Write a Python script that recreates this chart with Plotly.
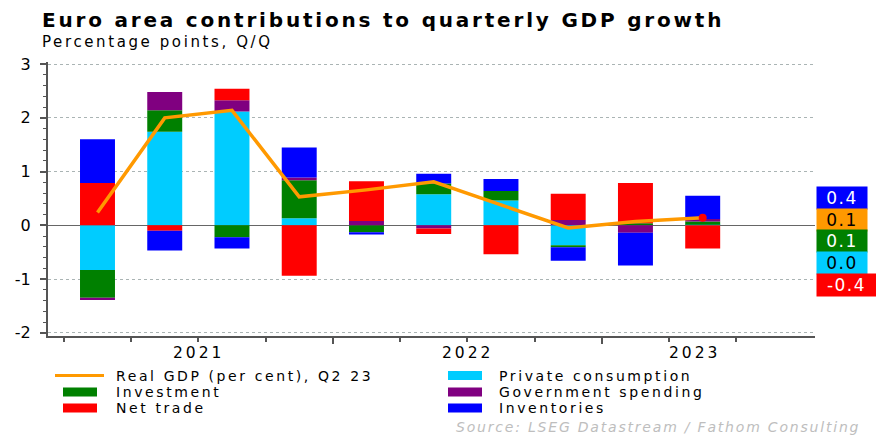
import plotly.graph_objects as go

# Quarterly contributions to euro area GDP growth (percentage points, Q/Q)
quarters = ["Q1 21", "Q2 21", "Q3 21", "Q4 21", "Q1 22",
            "Q2 22", "Q3 22", "Q4 22", "Q1 23", "Q2 23"]
private_consumption = [-0.83, 1.74, 2.12, 0.13, 0.00, 0.58, 0.46, -0.37, 0.00, 0.01]
investment = [-0.52, 0.40, -0.22, 0.71, -0.13, 0.20, 0.18, -0.04, 0.04, 0.06]
government_spending = [-0.04, 0.34, 0.21, 0.05, 0.08, -0.06, 0.00, 0.10, -0.14, 0.05]
net_trade = [0.79, -0.10, 0.21, -0.94, 0.74, -0.10, -0.54, 0.49, 0.75, -0.43]
inventories = [0.81, -0.37, -0.21, 0.56, -0.04, 0.18, 0.22, -0.25, -0.61, 0.43]
real_gdp = [0.24, 2.00, 2.14, 0.53, 0.66, 0.81, 0.38, -0.05, 0.07, 0.14]

year_labels = ["2021", "2022", "2023"]
year_label_pos = [1.5, 5.5, 8.88]
y_ticks = [-2, -1, 0, 1, 2, 3]

GDP_NAME = "Real GDP (per cent), Q2 23"
C_PC, C_INV, C_GOV, C_NT, C_STK, C_GDP = ("#00CCFF", "#008000", "#800080",
                                           "#FF0000", "#0000FF", "#FF9900")

x = list(range(len(quarters)))

# stacking order of the bars (positives and negatives stack separately)
bar_series = [
    ("Private consumption", private_consumption, C_PC),
    ("Investment", investment, C_INV),
    ("Government spending", government_spending, C_GOV),
    ("Net trade", net_trade, C_NT),
    ("Inventories", inventories, C_STK),
]

FONT = "DejaVu Sans"
W, H = 876, 435
L, R, T, B = 48, 61, 62, 99
PW, PH = W - L - R, H - T - B


def px_x(px):
    return (px - L) / PW


def px_y(py):
    return (H - B - py) / PH


def spaced(text, px):
    """Wrap text in a span with extra letter spacing (wide lettering)."""
    return f'<span style="letter-spacing:{px}px">{text}</span>'


fig = go.Figure()
for name, vals, col in bar_series:
    fig.add_trace(go.Bar(
        x=x, y=vals, name=name, marker=dict(color=col, line=dict(width=0)),
        width=0.52, customdata=quarters,
        hovertemplate="%{customdata}: %{y:.2f}<extra>" + name + "</extra>",
    ))

fig.add_trace(go.Scatter(
    x=x, y=real_gdp, name=GDP_NAME, mode="lines",
    line=dict(color=C_GDP, width=3.5), customdata=quarters,
    hovertemplate="%{customdata}: %{y:.2f}<extra>Real GDP</extra>",
))
# highlight latest GDP reading
fig.add_trace(go.Scatter(
    x=[x[-1]], y=[real_gdp[-1]], mode="markers", showlegend=False,
    marker=dict(color="#FF0000", size=8), hoverinfo="skip",
))

annotations = []
shapes = []

# title and subtitle
annotations.append(dict(
    text=spaced("<b>Euro area contributions to quarterly GDP growth</b>", 2.8),
    xref="paper", yref="paper", x=px_x(40), y=px_y(20),
    xanchor="left", yanchor="middle", showarrow=False,
    font=dict(family=FONT, size=20, color="#000000"),
))
annotations.append(dict(
    text=spaced("Percentage points, Q/Q", 2.6),
    xref="paper", yref="paper", x=px_x(40), y=px_y(42),
    xanchor="left", yanchor="middle", showarrow=False,
    font=dict(family=FONT, size=15, color="#000000"),
))

# year labels under the axis
for lbl, pos in zip(year_labels, year_label_pos):
    annotations.append(dict(
        text=spaced(lbl, 3), xref="x", yref="paper", x=pos, y=px_y(353),
        xanchor="center", yanchor="middle", showarrow=False,
        font=dict(family=FONT, size=15.5, color="#000000"),
    ))

# latest-value tags on the right
tags = [
    (inventories[-1], C_STK, "#FFFFFF", 46),
    (real_gdp[-1], C_GDP, "#000000", 46),
    (investment[-1], C_INV, "#FFFFFF", 46),
    (private_consumption[-1], C_PC, "#000000", 46),
    (net_trade[-1], C_NT, "#FFFFFF", 55),
]
for i, (val, bg, fg, wd) in enumerate(tags):
    annotations.append(dict(
        text=spaced(f"{val:.1f}", 1.5), xref="paper", yref="paper",
        x=px_x(816), y=px_y(198 + i * 21.7),
        xanchor="left", yanchor="middle", showarrow=False,
        width=wd, height=18, borderpad=2, bgcolor=bg, align="center",
        font=dict(family=FONT, size=17, color=fg),
    ))

# legend drawn in two columns
legend_items = [
    (GDP_NAME, C_GDP, "line", 55, 375.5),
    ("Private consumption", C_PC, "rect", 448, 375.5),
    ("Investment", C_INV, "rect", 63, 392),
    ("Government spending", C_GOV, "rect", 448, 392),
    ("Net trade", C_NT, "rect", 63, 408),
    ("Inventories", C_STK, "rect", 448, 408),
]
for name, col, kind, x0, yc in legend_items:
    if kind == "line":
        shapes.append(dict(type="line", xref="paper", yref="paper",
                           x0=px_x(x0), x1=px_x(104), y0=px_y(yc), y1=px_y(yc),
                           line=dict(color=col, width=3)))
        tx = 114
    else:
        shapes.append(dict(type="rect", xref="paper", yref="paper",
                           x0=px_x(x0), x1=px_x(x0 + 34),
                           y0=px_y(yc - 4.5), y1=px_y(yc + 4.5),
                           fillcolor=col, line=dict(width=0)))
        tx = 114 if x0 < 200 else 497
    annotations.append(dict(
        text=spaced(name, 2.6), xref="paper", yref="paper", x=px_x(tx), y=px_y(yc),
        xanchor="left", yanchor="middle", showarrow=False,
        font=dict(family=FONT, size=14, color="#000000"),
    ))

annotations.append(dict(
    text=spaced("<i>Source: LSEG Datastream / Fathom Consulting</i>", 1.8),
    xref="paper", yref="paper", x=px_x(862), y=px_y(427),
    xanchor="right", yanchor="middle", showarrow=False,
    font=dict(family=FONT, size=14, color="#BEBEBE"),
))

fig.update_layout(
    width=W, height=H,
    margin=dict(l=L, r=R, t=T, b=B, pad=0),
    paper_bgcolor="#FFFFFF", plot_bgcolor="#FFFFFF",
    barmode="relative", bargap=0.48,
    showlegend=False,
    font=dict(family=FONT, size=15, color="#000000"),
    annotations=annotations, shapes=shapes,
)

fig.update_xaxes(
    range=[-0.736, 10.67], showgrid=False, zeroline=False,
    showline=True, linecolor="#555555", linewidth=2,
    tickmode="array", tickvals=[3.5, 7.5], ticktext=["", ""],
    ticks="outside", ticklen=6, tickcolor="#555555", tickwidth=1.5,
    minor=dict(tickmode="array",
               tickvals=[-0.5, 0.5, 1.5, 2.5, 4.5, 5.5, 6.5, 8.5, 9.5],
               ticks="outside", ticklen=4, tickcolor="#555555", tickwidth=1.5,
               showgrid=False),
    fixedrange=True,
)
fig.update_yaxes(
    range=[-2.06, 3.04], tickmode="array", tickvals=y_ticks,
    ticktext=[str(v) for v in y_ticks],
    showgrid=True, gridcolor="#AAB4B4", griddash="dot", gridwidth=1,
    zeroline=True, zerolinecolor="#666666", zerolinewidth=1.2,
    showline=True, linecolor="#555555", linewidth=2,
    ticks="outside", ticklen=6, tickcolor="#555555", tickwidth=1.5,
    ticklabelstandoff=6,
    minor=dict(dtick=0.2, tick0=0, ticks="outside", ticklen=3,
               tickcolor="#555555", tickwidth=1, showgrid=False),
    tickfont=dict(family=FONT, size=16, color="#000000"),
    fixedrange=True,
)

fig.write_html("out.html")
